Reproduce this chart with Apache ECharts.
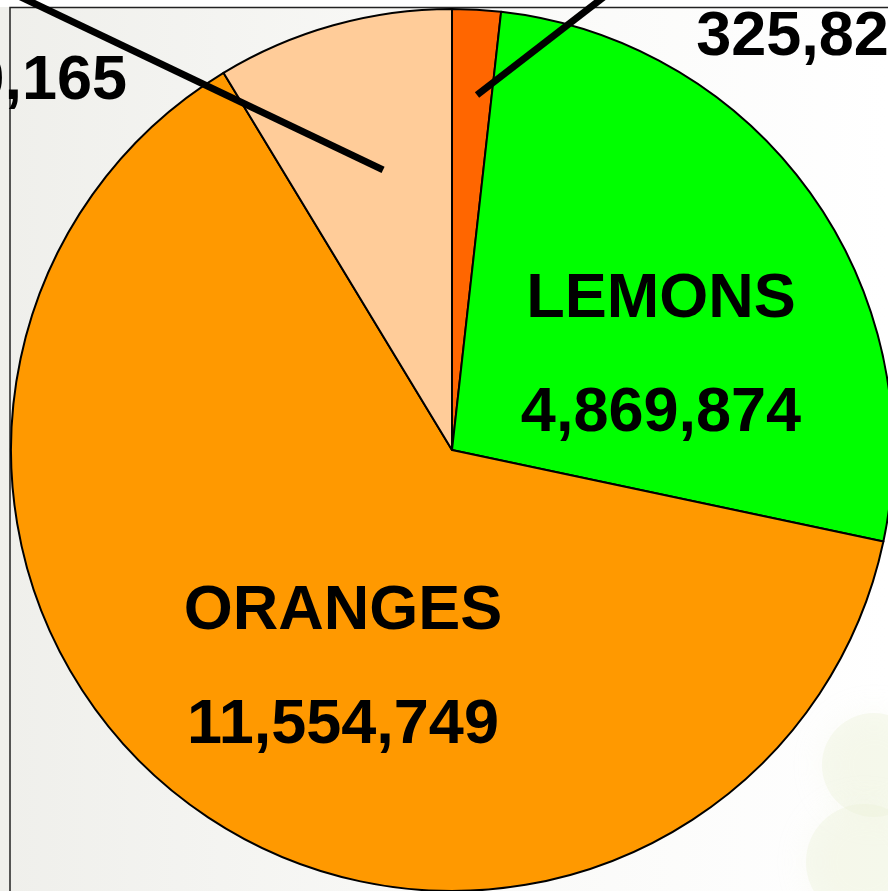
<!DOCTYPE html>
<html>
<head>
<meta charset="utf-8">
<script src="https://cdn.jsdelivr.net/npm/echarts@6/dist/echarts.min.js"></script>
<style>
  html, body { margin: 0; padding: 0; background: #fff; }
  #chart { width: 888px; height: 891px; }
</style>
</head>
<body>
<div id="chart"></div>
<script>
// citrus production, slices clockwise from 12 o'clock
var categories = ['TANGERINES', 'LEMONS', 'ORANGES', 'GRAPEFRUIT'];
var production = [325824, 4869874, 11554749, 1590165];
var sliceColors = ['#FF6600', '#00FF00', '#FF9900', '#FFCC99'];

// label placement; outside labels get a leader line drawn into the slice
var labelSide = ['outside', 'inside', 'inside', 'outside'];
var labelPos = [[810, -19], [661, 357], [343, 669], [-13, 25]];
// leader start inside slice: [share of slice angle, share of radius]
var leaderAnchor = [[0.63, 0.807], null, null, [0.557, 0.654]];
var leaderEnd = [[640, -31], null, null, [-40, -32]];

var CENTER = [452, 450];
var RADIUS = 441;

var chart = echarts.init(document.getElementById('chart'));

var data = categories.map(function (name, i) {
    return {
        name: name,
        value: production[i],
        itemStyle: { color: sliceColors[i] },
        label: { position: labelSide[i] }
    };
});

var blossom = { fill: 'rgba(236,240,214,0.35)', shadowBlur: 30, shadowColor: 'rgba(236,240,214,0.6)' };
var baseGraphic = [
    // faint blossoms in the slide background
    { type: 'circle', shape: { cx: 874, cy: 765, r: 52 }, style: blossom, z: -1 },
    { type: 'circle', shape: { cx: 864, cy: 862, r: 58 }, style: blossom, z: -1 },
    { type: 'rect', shape: { x: 0, y: 0, width: 888, height: 7 }, style: { fill: '#ffffff' }, z: -1 },
    // plot area frame
    { type: 'polyline', shape: { points: [[10, 900], [10, 7.5], [900, 7.5]] },
      style: { stroke: '#222', lineWidth: 1.5, fill: null }, z: 0 }
];

var option = {
    animation: false,
    backgroundColor: {
        type: 'linear', x: 0, y: 0, x2: 1, y2: 0,
        colorStops: [
            { offset: 0, color: '#efefeb' },
            { offset: 0.45, color: '#f8f8f6' },
            { offset: 1, color: '#ffffff' }
        ]
    },
    graphic: baseGraphic,
    series: [{
        type: 'pie',
        center: CENTER,
        radius: RADIUS,
        startAngle: 90,
        clockwise: true,
        avoidLabelOverlap: false,
        silent: true,
        z: 2,
        itemStyle: { borderColor: '#000', borderWidth: 2 },
        label: {
            show: true,
            formatter: function (p) {
                return p.name + '\n' + echarts.format.addCommas(p.value);
            },
            color: '#000',
            fontFamily: '"Liberation Sans", Arial, sans-serif',
            fontWeight: 'bold',
            fontSize: 63,
            lineHeight: 114,
            align: 'center'
        },
        labelLine: { show: false },
        labelLayout: function (params) {
            var i = params.dataIndex;
            return {
                x: labelPos[i][0],
                y: labelPos[i][1],
                align: 'center',
                verticalAlign: 'middle'
            };
        },
        data: data
    }]
};

chart.setOption(option);

// leader lines: start point taken from the pie's own sector layout
var pieData = chart.getModel().getSeriesByIndex(0).getData();
var leaders = [];
labelSide.forEach(function (side, i) {
    if (side !== 'outside') return;
    var lay = pieData.getItemLayout(i);
    var a = lay.startAngle + leaderAnchor[i][0] * (lay.endAngle - lay.startAngle);
    var r = lay.r * leaderAnchor[i][1];
    leaders.push({
        type: 'line',
        shape: {
            x1: lay.cx + r * Math.cos(a), y1: lay.cy + r * Math.sin(a),
            x2: leaderEnd[i][0], y2: leaderEnd[i][1]
        },
        style: { stroke: '#000', lineWidth: 7 },
        z: 10
    });
});
chart.setOption({ graphic: baseGraphic.concat(leaders) });
</script>
</body>
</html>
